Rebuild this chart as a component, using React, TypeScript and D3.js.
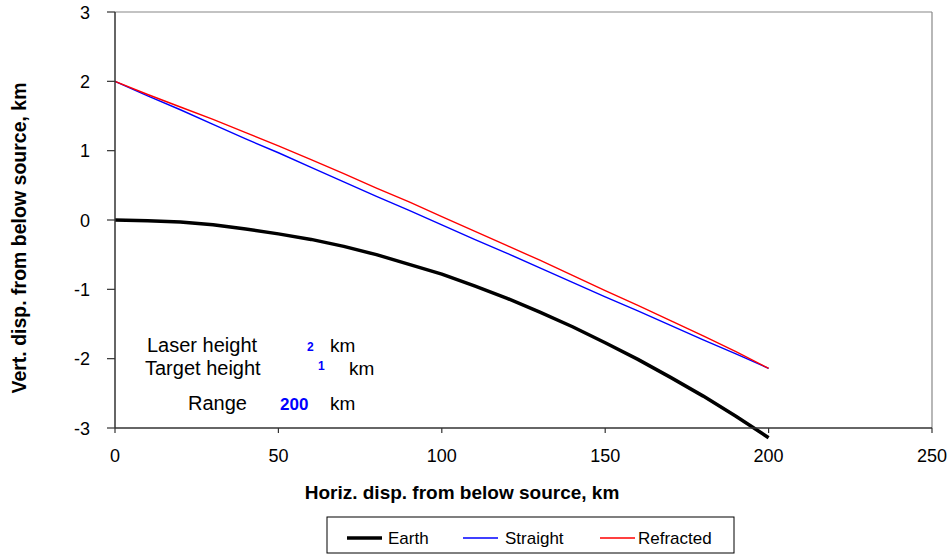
import * as d3 from "d3";

// horizontal displacement, km
const distances = [0, 10, 20, 30, 40, 50, 60, 70, 80, 90, 100, 110, 120, 130, 140, 150, 160, 170, 180, 190, 200];
// vertical displacement, km
const earth = [0, -0.01, -0.03, -0.07, -0.13, -0.2, -0.28, -0.38, -0.5, -0.64, -0.78, -0.95, -1.13, -1.33, -1.54, -1.77, -2.01, -2.27, -2.54, -2.83, -3.14];
const straight = [2, 1.79, 1.59, 1.38, 1.17, 0.97, 0.76, 0.55, 0.34, 0.14, -0.07, -0.28, -0.48, -0.69, -0.9, -1.11, -1.31, -1.52, -1.73, -1.93, -2.14];
const refracted = [2, 1.81, 1.63, 1.45, 1.26, 1.07, 0.87, 0.67, 0.46, 0.26, 0.05, -0.16, -0.37, -0.58, -0.8, -1.02, -1.23, -1.45, -1.67, -1.9, -2.14];

const xTicks = [0, 50, 100, 150, 200, 250];
const yTicks = [-3, -2, -1, 0, 1, 2, 3];

const series = [
  { name: "Earth", values: earth, color: "#000000", width: 3.5 },
  { name: "Straight", values: straight, color: "#0000ff", width: 1.4 },
  { name: "Refracted", values: refracted, color: "#ff0000", width: 1.4 },
];

const W = 948;
const H = 555;
const font = "'Liberation Sans', Arial, sans-serif";

const App = () => {
  const x = d3.scaleLinear().domain([0, 250]).range([115, 932]);
  const y = d3.scaleLinear().domain([-3, 3]).range([428, 12]);

  const line = (vals: number[]) =>
    d3
      .line<number>()
      .x((_, i) => x(distances[i]))
      .y((v) => y(v))(vals) ?? undefined;

  const legendItems = [
    { lx: 347, tx: 388 },
    { lx: 463, tx: 505 },
    { lx: 600, tx: 638 },
  ];

  return (
    <svg
      width={W}
      height={H}
      style={{ position: "absolute", left: 0, top: 0, fontFamily: font }}
    >
      <rect width={W} height={H} fill="white" />
      {/* plot frame: grey top/right */}
      <line x1={x(0)} x2={x(250)} y1={y(3)} y2={y(3)} stroke="#888" strokeWidth={1.2} />
      <line x1={x(250)} x2={x(250)} y1={y(3)} y2={y(-3)} stroke="#888" strokeWidth={1.2} />

      {/* series */}
      {series.map((s) => (
        <path
          key={s.name}
          d={line(s.values)}
          fill="none"
          stroke={s.color}
          strokeWidth={s.width}
          strokeLinejoin="round"
        />
      ))}

      {/* y axis */}
      <line x1={x(0)} x2={x(0)} y1={y(3)} y2={y(-3)} stroke="#333" strokeWidth={1.5} />
      {yTicks.map((t) => (
        <g key={t}>
          <line x1={x(0) - 8} x2={x(0)} y1={y(t)} y2={y(t)} stroke="#333" strokeWidth={1.2} />
          <text x={90} y={y(t) + 6.5} textAnchor="end" fontSize={18}>
            {t}
          </text>
        </g>
      ))}

      {/* x axis */}
      <line x1={x(0)} x2={x(250)} y1={y(-3)} y2={y(-3)} stroke="#333" strokeWidth={1.5} />
      {xTicks.map((t) => (
        <g key={t}>
          <line x1={x(t)} x2={x(t)} y1={y(-3)} y2={y(-3) + 5} stroke="#333" strokeWidth={1.2} />
          <text x={x(t)} y={462} textAnchor="middle" fontSize={18}>
            {t}
          </text>
        </g>
      ))}

      {/* axis titles */}
      <text x={462} y={499} textAnchor="middle" fontSize={19} fontWeight="bold">
        Horiz. disp. from below source, km
      </text>
      <text
        transform={`translate(26,238) rotate(-90)`}
        textAnchor="middle"
        fontSize={19.5}
        fontWeight="bold"
      >
        Vert. disp. from below source, km
      </text>

      {/* annotations */}
      <text x={147} y={352} fontSize={20}>Laser height</text>
      <text x={307} y={351} fontSize={12} fontWeight="bold" fill="#0000ff">2</text>
      <text x={330} y={352} fontSize={19}>km</text>

      <text x={145} y={375} fontSize={20}>Target height</text>
      <text x={318} y={370} fontSize={12} fontWeight="bold" fill="#0000ff">1</text>
      <text x={349} y={375} fontSize={19}>km</text>

      <text x={188} y={410} fontSize={20}>Range</text>
      <text x={280} y={410} fontSize={17} fontWeight="bold" fill="#0000ff">200</text>
      <text x={330} y={410} fontSize={19}>km</text>

      {/* legend */}
      <rect x={327} y={517} width={407} height={36} fill="white" stroke="#000" strokeWidth={1} />
      {series.map((s, i) => (
        <g key={s.name}>
          <line
            x1={legendItems[i].lx}
            x2={legendItems[i].lx + 35}
            y1={538}
            y2={538}
            stroke={s.color}
            strokeWidth={s.name === "Earth" ? 3.5 : 1.4}
          />
          <text x={legendItems[i].tx} y={544} fontSize={17}>
            {s.name}
          </text>
        </g>
      ))}
    </svg>
  );
};

export default App;
